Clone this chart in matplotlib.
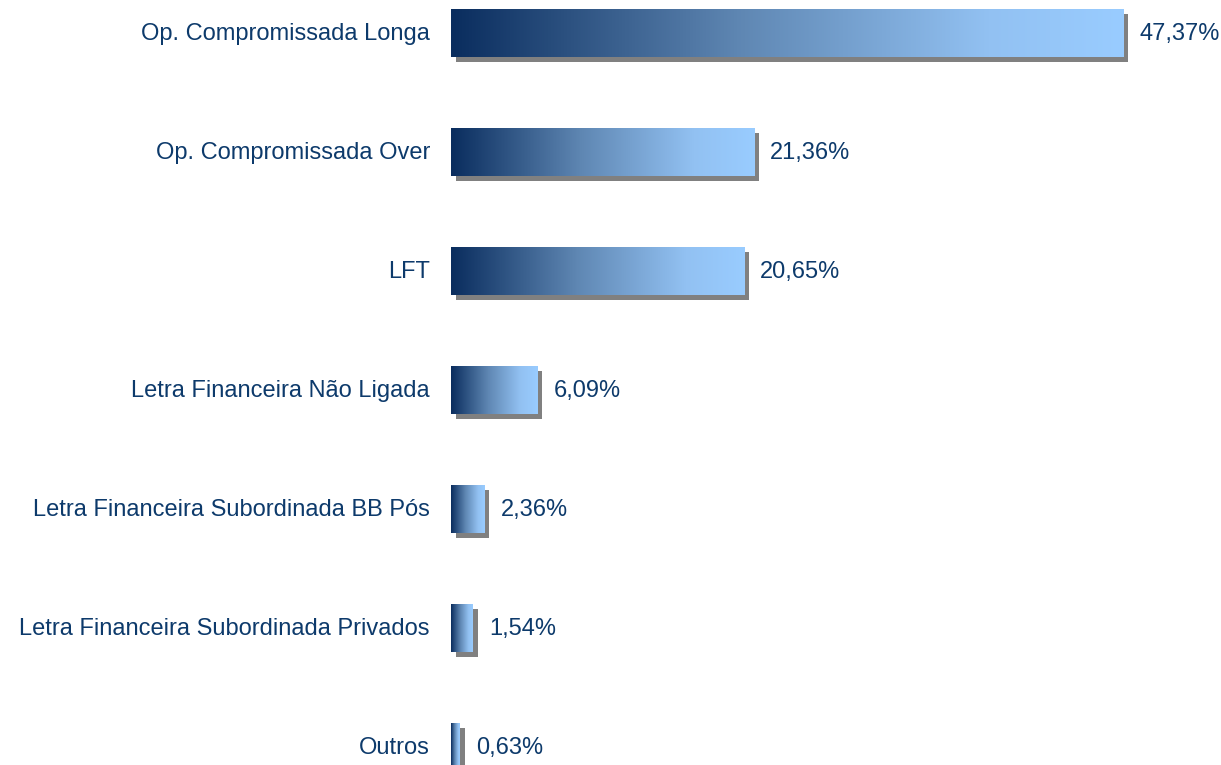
import numpy as np
import matplotlib.pyplot as plt
from matplotlib.colors import LinearSegmentedColormap

categories = [
    "Op. Compromissada Longa",
    "Op. Compromissada Over",
    "LFT",
    "Letra Financeira Não Ligada",
    "Letra Financeira Subordinada BB Pós",
    "Letra Financeira Subordinada Privados",
    "Outros",
]
values = [47.37, 21.36, 20.65, 6.09, 2.36, 1.54, 0.63]
value_labels = ["47,37%", "21,36%", "20,65%", "6,09%", "2,36%", "1,54%", "0,63%"]

text_color = "#0d3a6b"
cmap = LinearSegmentedColormap.from_list(
    "bar_grad",
    [(0.0, "#0a2d5e"), (0.43, "#5f87b3"), (0.8, "#92c1f2"), (1.0, "#99ccff")])

fig = plt.figure(figsize=(12.21, 7.65), dpi=100)
ax = fig.add_axes([0, 0, 1, 1])

px_x = 14.19   # pixels per percent
px_y = 119.0   # pixels per row
ax.axis("off")

bar_h = 48 / px_y
dx = 5 / px_x
dy = 5 / px_y
grad = np.linspace(0, 1, 256).reshape(1, -1)

for i, (name, v, lab) in enumerate(zip(categories, values, value_labels)):
    # drop shadow
    ax.barh(i + dy, v, left=dx, height=bar_h, color="#808080", zorder=1)
    # gradient-filled bar
    ax.imshow(grad, cmap=cmap, aspect="auto", zorder=2,
              extent=(0, v, i + bar_h / 2, i - bar_h / 2))
    ax.text(-21 / px_x, i + 1 / px_y, name, ha="right", va="center",
            fontsize=17, color=text_color, family="Liberation Sans")
    ax.text(v + 16 / px_x, i + 1 / px_y, lab, ha="left", va="center",
            fontsize=17, color=text_color, family="Liberation Sans")

ax.set_xlim(-451 / px_x, (1221 - 451) / px_x)
ax.set_ylim((765 - 33) / px_y, -33 / px_y)

fig.savefig("out.png", dpi=100)
